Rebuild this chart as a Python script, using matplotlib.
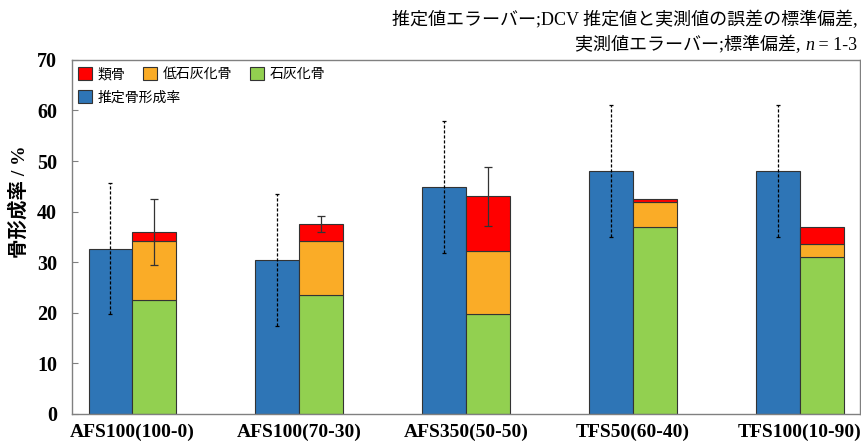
import matplotlib.pyplot as plt
import numpy as np

plt.rcParams['font.family'] = ['Liberation Serif', 'Noto Sans CJK JP']

groups = ['AFS100(100-0)', 'AFS100(70-30)', 'AFS350(50-50)', 'TFS50(60-40)', 'TFS100(10-90)']
est_rate = [32.7, 30.4, 44.9, 48.0, 48.0]
est_err = [13.0, 13.0, 13.0, 13.0, 13.0]
calcified = [22.6, 23.5, 19.8, 36.9, 31.0]
low_calcified = [11.5, 10.6, 12.4, 4.9, 2.6]
osteoid = [1.9, 3.4, 10.8, 0.6, 3.3]
meas_err = [6.5, 1.6, 5.9, 0, 0]

c_blue = '#2E75B6'
c_green = '#92D050'
c_orange = '#FAAC27'
c_red = '#FF0000'

fig = plt.figure(figsize=(8.61, 4.44), dpi=100)
ax = fig.add_axes([0.084, 0.068, 0.915, 0.797])

x = np.arange(len(groups))
w = 0.263
calcified = np.array(calcified)
low_calcified = np.array(low_calcified)
osteoid = np.array(osteoid)

b_est = ax.bar(x - w / 2, est_rate, w, color=c_blue, edgecolor='#333333', linewidth=0.8, zorder=2)
b_cal = ax.bar(x + w / 2, calcified, w, color=c_green, edgecolor='#333333', linewidth=0.8, zorder=2)
b_low = ax.bar(x + w / 2, low_calcified, w, bottom=calcified, color=c_orange,
               edgecolor='#333333', linewidth=0.8, zorder=2)
b_ost = ax.bar(x + w / 2, osteoid, w, bottom=calcified + low_calcified, color=c_red,
               edgecolor='#333333', linewidth=0.8, zorder=2)

# estimated error bars, dashed
eb = ax.errorbar(x - w / 2, est_rate, yerr=est_err, fmt='none', ecolor='black',
                 elinewidth=0.9, capsize=1.5, capthick=0.9, zorder=3)
eb[2][0].set_linestyle((0, (2.5, 1.5)))

# measured error bars
tot = calcified + low_calcified + osteoid
meas_err = np.array(meas_err)
m = meas_err > 0
ax.errorbar((x + w / 2)[m], tot[m], yerr=meas_err[m], fmt='none', ecolor='#333333',
            elinewidth=0.9, capsize=3, capthick=0.9, zorder=3)

ax.set_ylim(0, 70)
ax.set_xlim(-0.36, 4.36)
ax.set_yticks(range(0, 71, 10))
ax.set_xticks(x)
ax.set_xticklabels(groups, fontsize=14, fontweight='bold')
ax.tick_params(axis='y', direction='in', length=4, labelsize=14.5, color='#808080', pad=11)
ax.tick_params(axis='x', length=0, pad=7)
for lab in ax.get_yticklabels():
    lab.set_fontweight('bold')
for s in ax.spines.values():
    s.set_color('#808080')
    s.set_linewidth(1.0)

ax.set_ylabel('骨形成率 / %', fontsize=14, fontweight='bold')
ax.yaxis.set_label_coords(-0.056, 0.6)

leg1 = ax.legend([b_ost, b_low, b_cal], ['類骨', '低石灰化骨', '石灰化骨'], loc='upper left',
                 ncol=3, frameon=False, fontsize=10, handlelength=1.0, handleheight=1.0,
                 handletextpad=0.4, columnspacing=1.3, borderaxespad=0.0,
                 bbox_to_anchor=(0.0, 0.995))
ax.add_artist(leg1)
ax.legend([b_est], ['推定骨形成率'], loc='upper left', frameon=False, fontsize=10,
          handlelength=1.0, handleheight=1.0, handletextpad=0.4, borderaxespad=0.0,
          bbox_to_anchor=(0.0, 0.93))

# header text, italic n drawn separately so the CJK fallback keeps working
fs = 13
fig.text(0.996, 0.955, '推定値エラーバー;DCV 推定値と実測値の誤差の標準偏差,',
         ha='right', va='center', fontsize=fs)
t3 = fig.text(0.996, 0.878, ' = 1-3', ha='right', va='bottom', fontsize=fs)
t2 = ax.annotate('n', xy=(0, 0), xycoords=t3, ha='right', va='bottom', fontsize=fs,
                 style='italic', annotation_clip=False)
ax.annotate('実測値エラーバー;標準偏差, ', xy=(0, 0), xycoords=t2, ha='right', va='bottom',
            fontsize=fs, annotation_clip=False)

fig.savefig('out.png', dpi=100)
